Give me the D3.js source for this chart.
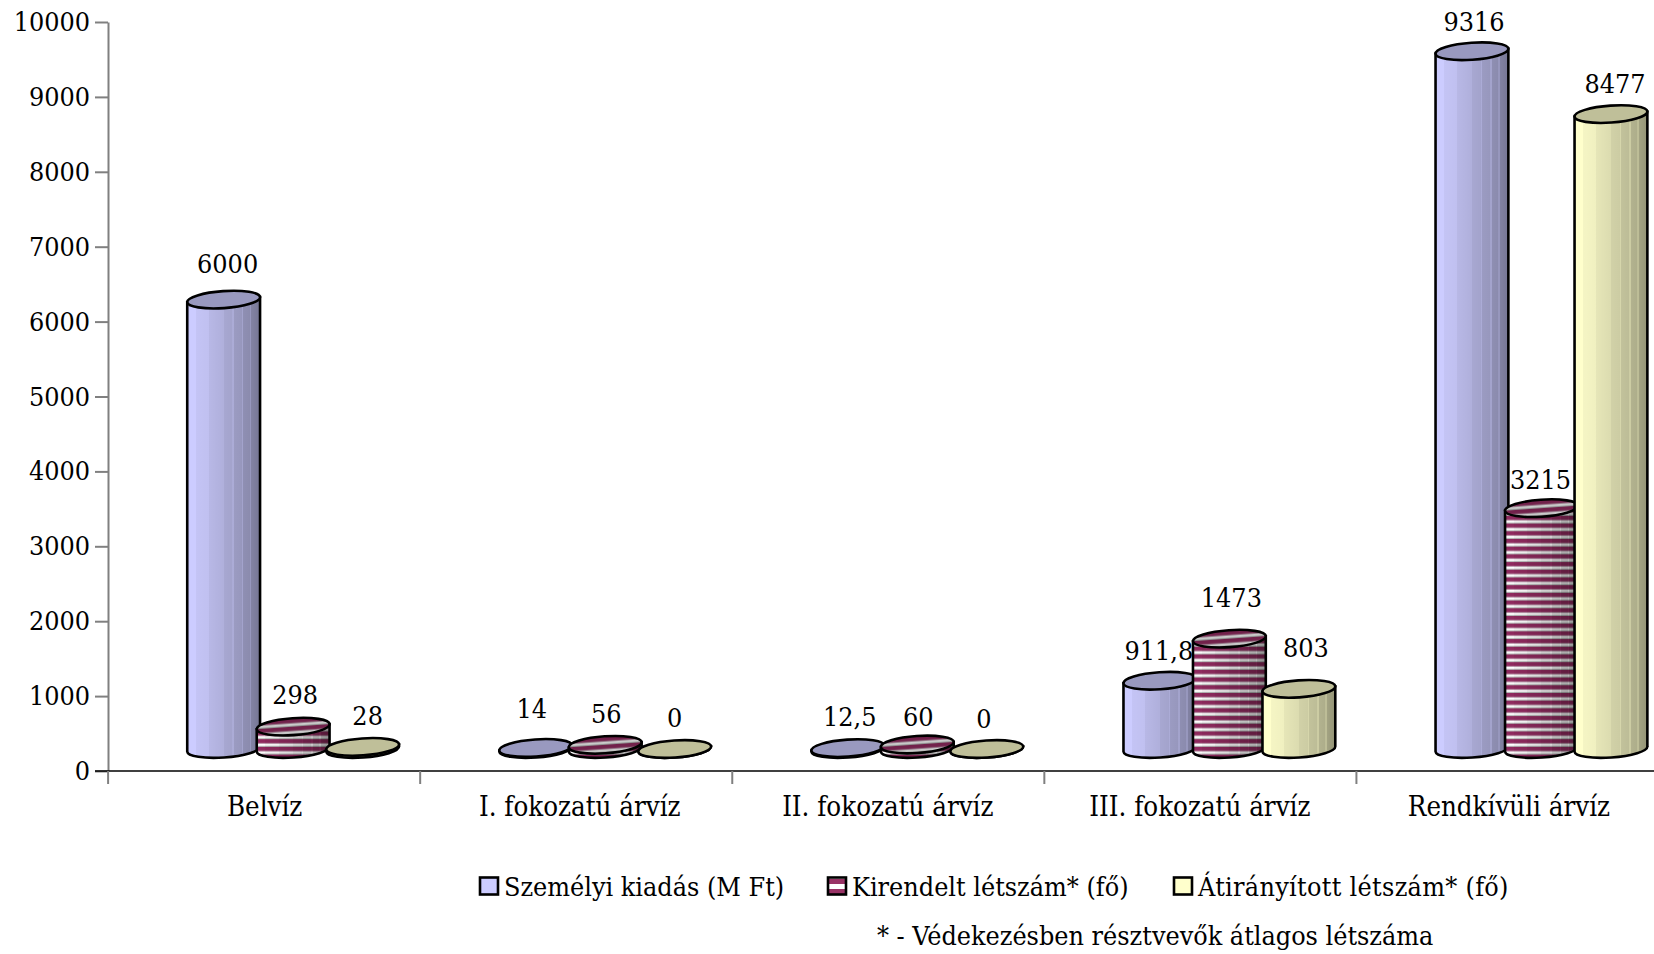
<!DOCTYPE html>
<html>
<head>
<meta charset="utf-8">
<script src="https://cdnjs.cloudflare.com/ajax/libs/d3/7.8.5/d3.min.js"></script>
<style>
  html, body { margin: 0; padding: 0; background: #fff; overflow: hidden; }
  text { font-family: "DejaVu Serif Condensed", "DejaVu Serif", serif; font-size: 26.7px; fill: #000; }
</style>
</head>
<body>
<div id="chart"></div>
<script>
const categories = ['Belvíz', 'I. fokozatú árvíz', 'II. fokozatú árvíz', 'III. fokozatú árvíz', 'Rendkívüli árvíz']
const seriesNames = ['Személyi kiadás (M Ft)', 'Kirendelt létszám* (fő)', 'Átirányított létszám* (fő)']
const szemelyi = [6000, 14, 12.5, 911.8, 9316]
const kirendelt = [298, 56, 60, 1473, 3215]
const atiranyitott = [28, 0, 0, 803, 8477]
const yTicks = [0, 1000, 2000, 3000, 4000, 5000, 6000, 7000, 8000, 9000, 10000]
const footnote = '* - Védekezésben résztvevők átlagos létszáma'

// hand placed data labels in the original, [dx, dy from the cylinder top]
const labelNudge = [
  [[5, -27], [-3, -30], [3, -22], [0, -21], [3, -20]],
  [[3, -23], [2, -22], [2, -19], [3, -32], [0, -19]],
  [[6, -22], [1, -22], [-2, -21], [8, -32], [5, -21]]
]
const categoryNudge = [1, 4, 0, 0, -3]

const width = 1654, height = 954
const svg = d3.select('#chart').append('svg')
  .attr('width', width)
  .attr('height', height)
const defs = svg.append('defs')

const yScale = d3.scaleLinear().domain([0, 10000]).range([771, 22])
const xBand = d3.scaleBand().domain(categories).range([107.6, 1668])
const xEdges = d3.scaleLinear().domain([0, 5]).range([107.6, 1668])
const xSeries = d3.scalePoint().domain([0, 1, 2]).range([-70, 69])

// cylinder look
const depthX = 30, depthY = 22, rx = 36.5, ry = 8.5, tilt = -4
const cosT = Math.cos(tilt * Math.PI / 180), sinT = Math.sin(tilt * Math.PI / 180)

// side shading, stepped like the banding in the original
const shade = defs.append('linearGradient').attr('id', 'shade')
const shadeSteps = [
  [0, 0], [.12, 0], [.12, .04], [.3, .06], [.3, .1], [.5, .14], [.5, .18], [.62, .2], [.62, .16],
  [.64, .16], [.64, .24], [.75, .26], [.75, .2], [.77, .2], [.77, .3], [.86, .32], [.86, .26],
  [.88, .26], [.88, .36], [1, .42]
]
shade.selectAll('stop').data(shadeSteps).enter().append('stop')
  .attr('offset', d => d[0])
  .attr('stop-color', '#000')
  .attr('stop-opacity', d => d[1])

const stripes = defs.append('pattern').attr('id', 'stripes')
  .attr('patternUnits', 'userSpaceOnUse')
  .attr('width', 8).attr('height', 7.7)
stripes.append('rect').attr('width', 8).attr('height', 7.7).attr('fill', '#fff')
stripes.append('rect').attr('width', 8).attr('y', 0).attr('height', 3.8).attr('fill', '#8f2a5e')
stripes.append('rect').attr('width', 8).attr('y', 3.8).attr('height', 1).attr('fill', '#c09cb0')
stripes.append('rect').attr('width', 8).attr('y', 6.6).attr('height', 1.1).attr('fill', '#b5b5b5')

const swatchStripes = defs.append('pattern').attr('id', 'swatchStripes')
  .attr('patternUnits', 'userSpaceOnUse')
  .attr('width', 8).attr('height', 10).attr('y', 879)
swatchStripes.append('rect').attr('width', 8).attr('height', 10).attr('fill', '#fff')
swatchStripes.append('rect').attr('width', 8).attr('y', 0).attr('height', 5).attr('fill', '#993366')

const sideFill = ['#ccccff', 'url(#stripes)', '#ffffcc']
const topFill = ['#9999bf', 'url(#stripes)', '#bfbf99']
const swatchFill = ['#ccccff', 'url(#swatchStripes)', '#ffffcc']

// axes
const yAxis = svg.append('g')
  .attr('transform', 'translate(108,0)')
  .call(d3.axisLeft(yScale).tickValues(yTicks).tickFormat(d3.format('d')).tickSize(13).tickSizeOuter(0).tickPadding(5))
yAxis.select('.domain').attr('stroke', '#808080').attr('stroke-width', 2)
yAxis.selectAll('.tick line').attr('stroke', '#808080').attr('stroke-width', 2)
yAxis.selectAll('.tick text').style('font-size', '26.7px').attr('font-family', null)

svg.append('line')
  .attr('x1', 95).attr('x2', width)
  .attr('y1', yScale(0)).attr('y2', yScale(0))
  .attr('stroke', '#000').attr('stroke-width', 1.5)

const xTickAxis = svg.append('g')
  .attr('transform', 'translate(0,771)')
  .call(d3.axisBottom(xEdges).ticks(5).tickSize(13).tickSizeOuter(0).tickFormat(''))
xTickAxis.select('.domain').remove()
xTickAxis.selectAll('.tick line').attr('stroke', '#808080').attr('stroke-width', 2)

const xAxis = svg.append('g')
  .attr('transform', 'translate(0,771)')
  .call(d3.axisBottom(xBand).tickSize(0).tickPadding(26))
xAxis.select('.domain').remove()
xAxis.selectAll('.tick text')
  .style('font-size', '27.4px')
  .attr('font-family', null)
  .attr('dx', (d, i) => categoryNudge[i])

// cylinders, later series lie over earlier ones
const series = [szemelyi, kirendelt, atiranyitott]
const labels = svg.append('g')
series.forEach((values, s) => {
  const g = svg.append('g').attr('class', 'series-' + s)
  values.forEach((v, c) => {
    const cx = xBand(categories[c]) + xBand.bandwidth() / 2 + depthX + xSeries(s)
    const baseY = yScale(0) - depthY
    const topY = yScale(v) - depthY
    const dx = rx * cosT, dy = rx * sinT

    const side = `M${cx - dx},${topY - dy} L${cx - dx},${baseY - dy} ` +
      `A${rx},${ry} ${tilt} 0 0 ${cx + dx},${baseY + dy} L${cx + dx},${topY + dy} Z`
    g.append('path').attr('d', side).attr('fill', sideFill[s])
    g.append('path').attr('d', side).attr('fill', 'url(#shade)')
    g.append('path').attr('d', side)
      .attr('fill', 'none').attr('stroke', '#000').attr('stroke-width', 2.6)

    const lid = g.append('g').attr('transform', `translate(${cx},${topY}) rotate(${tilt})`)
    lid.append('ellipse').attr('rx', rx).attr('ry', ry).attr('fill', topFill[s])
    if (s === 1) {
      lid.append('ellipse').attr('rx', rx).attr('ry', ry).attr('fill', '#000').attr('opacity', 0.2)
    }
    lid.append('ellipse').attr('rx', rx).attr('ry', ry)
      .attr('fill', 'none').attr('stroke', '#000').attr('stroke-width', 2.6)

    labels.append('text')
      .attr('x', cx + labelNudge[s][c][0] - 1)
      .attr('y', topY + labelNudge[s][c][1])
      .attr('text-anchor', 'middle')
      .text(String(v).replace('.', ','))
  })
})
labels.raise()

// legend
const legendSwatchX = [480, 828, 1174]
const legendTextX = [504, 852, 1198]
const legendSpacing = [0, 0, 0.3]
seriesNames.forEach((name, i) => {
  svg.append('rect')
    .attr('x', legendSwatchX[i]).attr('y', 877.5)
    .attr('width', 18).attr('height', 17)
    .attr('fill', swatchFill[i])
    .attr('stroke', '#000').attr('stroke-width', 2.6)
  svg.append('text').attr('x', legendTextX[i]).attr('y', 896)
    .style('letter-spacing', legendSpacing[i] + 'px')
    .text(name)
})
svg.append('text').attr('x', 877).attr('y', 945).text(footnote)
</script>
</body>
</html>
